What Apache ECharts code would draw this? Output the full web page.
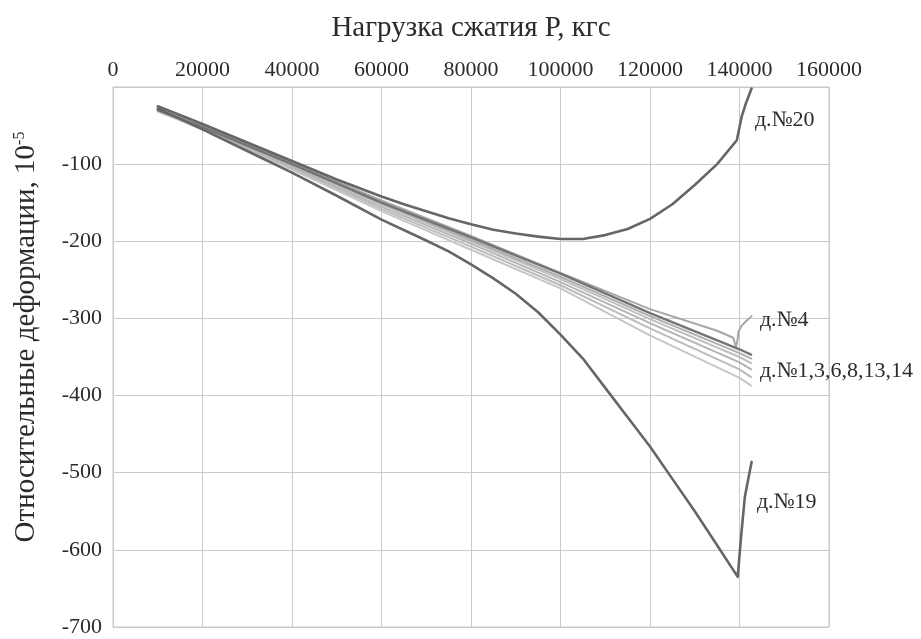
<!DOCTYPE html>
<html>
<head>
<meta charset="utf-8">
<script src="https://cdn.jsdelivr.net/npm/echarts@6/dist/echarts.min.js"></script>
<style>
html,body{margin:0;padding:0;background:#fff}
#chart{width:921px;height:639px}
</style>
</head>
<body>
<div id="chart"></div>
<script>
// нагрузка, кгс (ось X)
var loadTicks = [0, 20000, 40000, 60000, 80000, 100000, 120000, 140000, 160000]
var strainTicks = [-700, -600, -500, -400, -300, -200, -100, 0]

// пучок образцов д.№1,3,6,8,13,14
var bundleLoad = [10000, 20000, 40000, 60000, 80000, 100000, 120000, 140000, 142600]
var strainA = [-30, -52, -100, -150, -195, -242, -293, -340, -347]
var strainB = [-28, -51, -100, -151, -198, -246, -297, -345, -352]
var strainC = [-29, -52, -101, -152, -200, -249, -301, -350, -358]
var strainD = [-30, -53, -103, -155, -203, -253, -306, -357, -366]
var strainE = [-31, -54, -105, -158, -207, -257, -313, -366, -376]
var strainF = [-32, -55, -107, -161, -211, -261, -322, -377, -387]

// д.№4
var load4 = [10000, 20000, 40000, 60000, 80000, 100000, 120000, 135000, 138600, 139200, 139500, 139800, 140400, 141400, 142700]
var strain4 = [-28, -50, -98, -147, -193, -241, -288, -316, -325, -337, -330, -317, -310, -304, -297]

// д.№19
var load19 = [10000, 20000, 30000, 40000, 50000, 60000, 70000, 75000, 80000, 85000, 90000, 95000, 100000, 105000, 110000, 115000, 120000, 125000, 130000, 135000, 139600, 140400, 141200, 142700]
var strain19 = [-28, -55, -83, -111, -141, -172, -199, -213, -230, -248, -268, -292, -321, -352, -390, -428, -466, -508, -550, -594, -635, -580, -531, -486]

// д.№20
var load20 = [10000, 20000, 30000, 40000, 50000, 60000, 65000, 70000, 75000, 80000, 85000, 90000, 95000, 100000, 105000, 110000, 115000, 120000, 125000, 130000, 135000, 139400, 140500, 141500, 142700]
var strain20 = [-25, -48, -72, -96, -120, -142, -152, -161, -170, -178, -185, -190, -194, -197, -197, -192, -184, -171, -152, -127, -100, -69, -38, -20, -2]

function pairs(xs, ys){
  return xs.map(function(x, i){ return [x, ys[i]] })
}

function line(name, xs, ys, color, width){
  return {
    name: name,
    type: 'line',
    data: pairs(xs, ys),
    showSymbol: false,
    lineStyle: {color: color, width: width, join: 'round', cap: 'round'},
    z: width > 2.2 ? 3 : 2
  }
}

var serif = '"Liberation Serif", "DejaVu Serif", serif'
var gridColor = '#cacaca'
var textColor = '#2b2b2b'

var myChart = echarts.init(document.getElementById('chart'))
var option = {
  animation: false,
  grid: {left: 113, top: 87, right: 92, bottom: 12, show: true, borderColor: gridColor, borderWidth: 1},
  xAxis: {
    type: 'value',
    position: 'top',
    min: loadTicks[0],
    max: loadTicks[loadTicks.length - 1],
    interval: 20000,
    name: 'Нагрузка сжатия Р, кгс',
    nameLocation: 'middle',
    nameGap: 44,
    nameTextStyle: {fontFamily: serif, fontSize: 29, color: textColor},
    axisLine: {show: true, lineStyle: {color: gridColor}},
    axisTick: {show: false},
    axisLabel: {
      fontFamily: serif, fontSize: 22, color: textColor, margin: 6,
      formatter: function(v){ return String(v) }
    },
    splitLine: {show: true, lineStyle: {color: gridColor, width: 1}}
  },
  yAxis: {
    type: 'value',
    min: strainTicks[0],
    max: strainTicks[strainTicks.length - 1],
    interval: 100,
    name: 'Относительные деформации, 10{sup|-5}',
    nameLocation: 'middle',
    nameGap: 72,
    nameTextStyle: {
      fontFamily: serif, fontSize: 29, color: textColor,
      padding: [0, 0, 0, 40],
      rich: {sup: {fontFamily: serif, fontSize: 16, color: textColor, verticalAlign: 'top', padding: [0, 0, 12, 0]}}
    },
    axisLine: {show: true, lineStyle: {color: gridColor}},
    axisTick: {show: false},
    axisLabel: {
      fontFamily: serif, fontSize: 22, color: textColor, margin: 11,
      formatter: function(v){ return v === 0 ? '' : String(v) }
    },
    splitLine: {show: true, lineStyle: {color: gridColor, width: 1}}
  },
  series: [
    line('д.№1', bundleLoad, strainF, '#c6c6c6', 2),
    line('д.№3', bundleLoad, strainE, '#bcbcbc', 2),
    line('д.№6', bundleLoad, strainD, '#b4b4b4', 2),
    line('д.№8', bundleLoad, strainC, '#c0c0c0', 2),
    line('д.№13', bundleLoad, strainB, '#aeaeae', 2),
    line('д.№4', load4, strain4, '#a6a6a6', 2),
    line('д.№14', bundleLoad, strainA, '#747474', 2.4),
    line('д.№19', load19, strain19, '#666666', 2.6),
    line('д.№20', load20, strain20, '#666666', 2.6)
  ]
}
myChart.setOption(option)

// подписи образцов справа от кривых
var notes = [
  {text: 'д.№20', at: [143000, -43], dx: 2},
  {text: 'д.№4', at: [143000, -302], dx: 7},
  {text: 'д.№1,3,6,8,13,14', at: [143000, -369], dx: 7},
  {text: 'д.№19', at: [143000, -538], dx: 4}
]
myChart.setOption({
  graphic: notes.map(function(n){
    var p = myChart.convertToPixel({gridIndex: 0}, n.at)
    return {
      type: 'text',
      x: p[0] + n.dx,
      y: p[1],
      style: {text: n.text, font: '22px ' + serif, fill: textColor, textVerticalAlign: 'middle'}
    }
  })
})
</script>
</body>
</html>
